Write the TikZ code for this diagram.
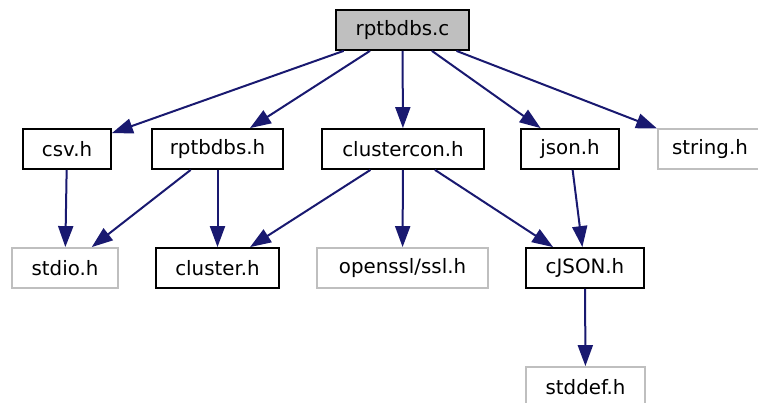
\documentclass[tikz,border=0pt]{standalone}
\usepackage{fontspec}
\setmainfont{DejaVu Sans}
\usetikzlibrary{arrows.meta,positioning}
\definecolor{edgeblue}{HTML}{191970}
\definecolor{boxgray}{HTML}{BFBFBF}

\begin{document}
\begin{tikzpicture}[
    x=1pt,
    y=-1pt,
    every node/.style={
        rectangle,
        draw,
        line width=1.8pt,
        minimum height=40pt,
        inner sep=0pt,
        font=\fontsize{19.8}{24}\selectfont
    },
    file/.style={draw=black},
    sysfile/.style={draw=boxgray},
    current/.style={draw=black, fill=boxgray},
    inc/.style={draw=edgeblue, line width=2pt,
        -{Triangle[length=21pt,width=15pt,fill=edgeblue]}}
]
\useasboundingbox (0,0) rectangle (758,403);

% ---------------- Files ----------------
\node[current, minimum width=133pt] (rptc) at (402.5,30) {rptbdbs.c};

\node[file, minimum width=88pt]     (csv)        at (67,149)    {csv.h};
\node[file, minimum width=131pt]    (rpth)       at (217.5,149) {rptbdbs.h};
\node[file, minimum width=162pt]    (clustercon) at (403,149)   {clustercon.h};
\node[file, minimum width=98pt]     (json)       at (570,149)   {json.h};
\node[sysfile, minimum width=104pt] (string)     at (710,149)   {string.h};

\node[sysfile, minimum width=106pt] (stdio)   at (65,268)    {stdio.h};
\node[file, minimum width=123pt]    (cluster) at (217.5,268) {cluster.h};
\node[sysfile, minimum width=171pt] (openssl) at (402.5,268) {openssl/ssl.h};
\node[file, minimum width=118pt]    (cjson)   at (585,268)   {cJSON.h};

\node[sysfile, minimum width=119pt] (stddef) at (585.5,387) {stddef.h};

% ---------------- Includes ----------------
\draw[inc] (rptc) -- (csv);
\draw[inc] (rptc) -- (rpth);
\draw[inc] (rptc) -- (clustercon);
\draw[inc] (rptc) -- (json);
\draw[inc] (rptc) -- (string);

\draw[inc] (csv) -- (stdio);
\draw[inc] (rpth) -- (stdio);
\draw[inc] (rpth) -- (cluster);
\draw[inc] (clustercon) -- (cluster);
\draw[inc] (clustercon) -- (openssl);
\draw[inc] (clustercon) -- (cjson);
\draw[inc] (json) -- (cjson);
\draw[inc] (cjson) -- (stddef);

\end{tikzpicture}
\end{document}
